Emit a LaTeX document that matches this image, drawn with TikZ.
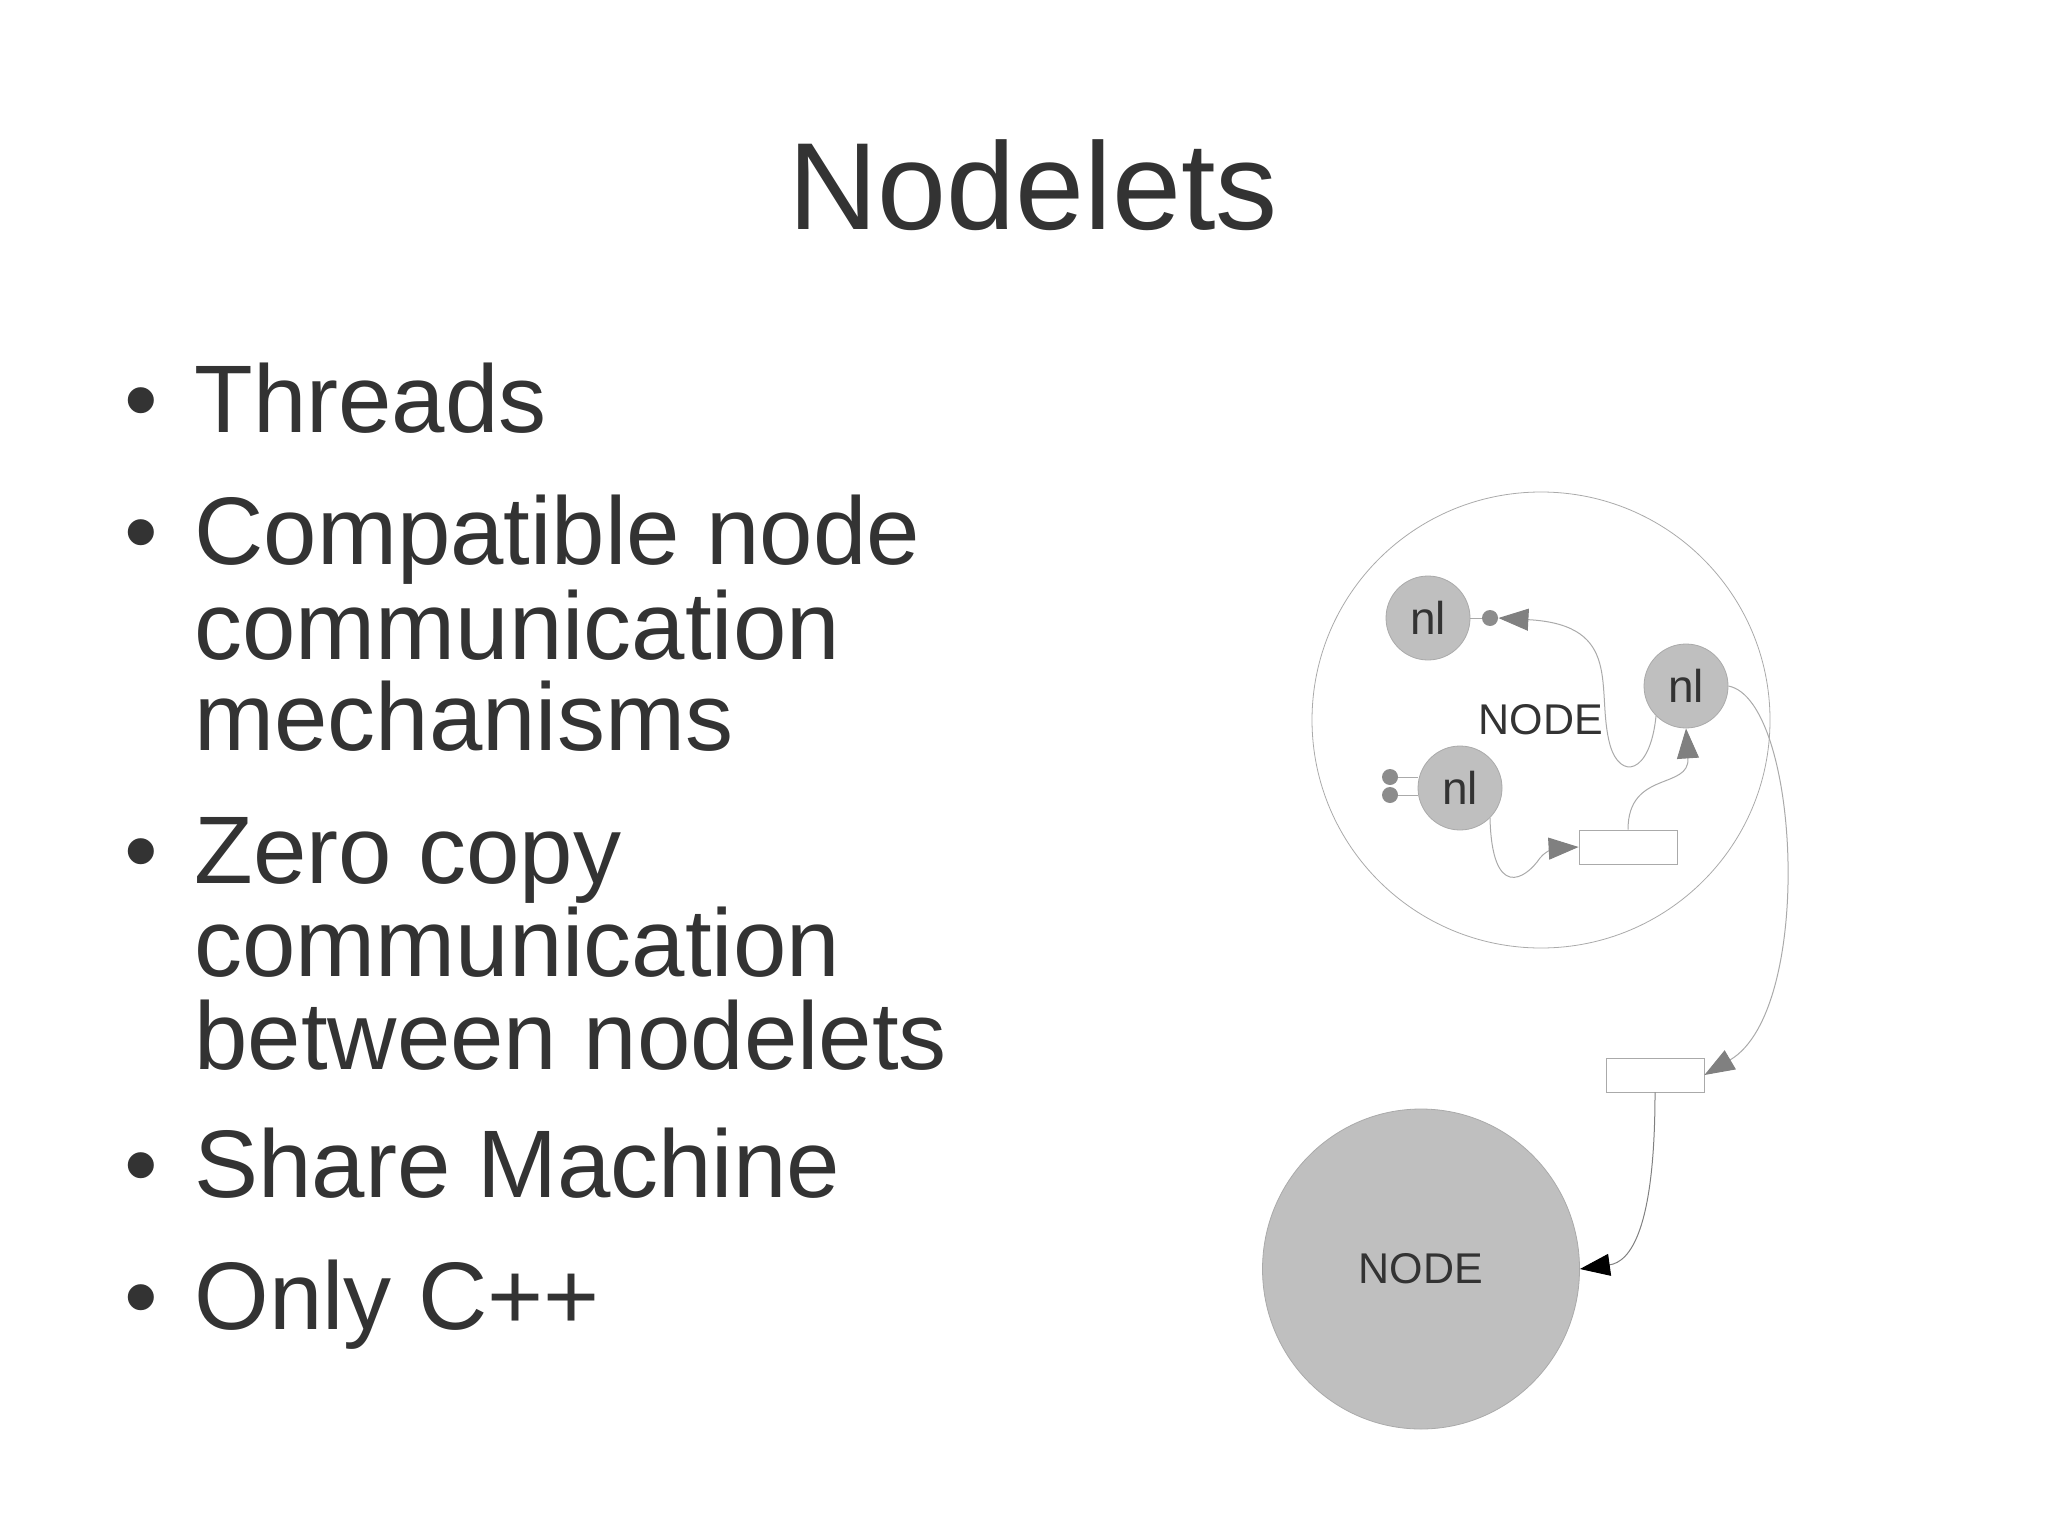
\documentclass[tikz,border=0pt]{standalone}
\usepackage{fontspec}
\setmainfont{Liberation Sans}
\usetikzlibrary{arrows.meta,shapes.geometric}
\definecolor{txt}{HTML}{333333}
\definecolor{nlfill}{HTML}{BFBFBF}
\definecolor{ln}{HTML}{AAAAAA}
\begin{document}
\begin{tikzpicture}[x=0.5pt,y=-0.5pt,
  bul/.style={anchor=base west,text=txt,font=\fontsize{48}{55}\selectfont,inner sep=0},
  nl/.style={circle,fill=nlfill,draw=ln,line width=0.4pt,minimum size=42pt,inner sep=0,text=txt,font=\fontsize{23}{26}\selectfont},
  box/.style={draw=ln,fill=white,line width=0.4pt,minimum width=49pt,minimum height=17pt,inner sep=0},
  dot/.style={circle,fill=gray!90,minimum size=8pt,inner sep=0},
  con/.style={draw=ln,line width=0.5pt},
  garr/.style={con,-{Triangle[length=15pt,width=11pt,fill=gray,color=gray]}},
  barr/.style={draw=gray,line width=0.5pt,-{Triangle[length=15pt,width=11pt,fill=black,color=black]}}]
\useasboundingbox (0,0) rectangle (2048,1535);
\node[text=txt,font=\fontsize{62}{70}\selectfont,anchor=base] (title) at (1033,230) {Nodelets};
\foreach \y/\b in {432/1,564/1,659/0,750/0,883/1,976/0,1069/0,1197/1,1329/1}{
  \ifnum\b=1 \node[bul,anchor=base] at (141,\y) {\textbullet};\fi}
\node[bul] (t1) at (194,432) {Threads};
\node[bul] (t2) at (194,564) {Compatible node};
\node[bul] (t3) at (194,659) {communication};
\node[bul] (t4) at (194,750) {mechanisms};
\node[bul] (t5) at (194,883) {Zero copy};
\node[bul] (t6) at (194,976) {communication};
\node[bul] (t7) at (194,1069) {between nodelets};
\node[bul] (t8) at (194,1197) {Share Machine};
\node[bul] (t9) at (194,1329) {Only C++};
% outer node
\node[ellipse,draw=ln,line width=0.4pt,minimum width=229pt,minimum height=228pt,inner sep=0,text=txt,font=\fontsize{21.5}{24}\selectfont] (outer) at (1541,720) {NODE};
\node[nl] (n1) at (1428,618) {nl};
\node[nl] (n2) at (1686,686) {nl};
\node[nl] (n3) at (1460,788) {nl};
\node[box] (b1) at (1628,847) {};
\node[box] (b2) at (1655,1075) {};
\node[ellipse,fill=nlfill,draw=ln,line width=0.4pt,minimum width=158.5pt,minimum height=160pt,inner sep=0,text=txt,font=\fontsize{21.5}{24}\selectfont] (big) at (1421,1269) {NODE};
\node[dot] (d1) at (1490,618) {};
\node[dot] (d2) at (1390,777) {};
\node[dot] (d3) at (1390,795) {};
\draw[con] (n1) -- (d1);
\draw[con] (d2) -- (d2 -| n3.west);
\draw[con] (d3) -- (d3 -| n3.west);
\draw[garr] (n2.south west) .. controls (1650,775) and (1620,780) .. (1610,745) .. controls (1595,690) and (1625,625) .. (d1.east);
\draw[garr] (n3.south east) .. controls (1492,900) and (1525,880) .. (1540,858) .. controls (1548,848) and (1560,848) .. (b1.west);
\draw[garr] (b1.north) .. controls (1628,770) and (1690,790) .. (n2.south);
\draw[garr] (n2.east) .. controls (1800,700) and (1815,1010) .. (b2.east);
\draw[barr] (b2.south) .. controls (1655,1230) and (1630,1262) .. (big.east);
\end{tikzpicture}
\end{document}
